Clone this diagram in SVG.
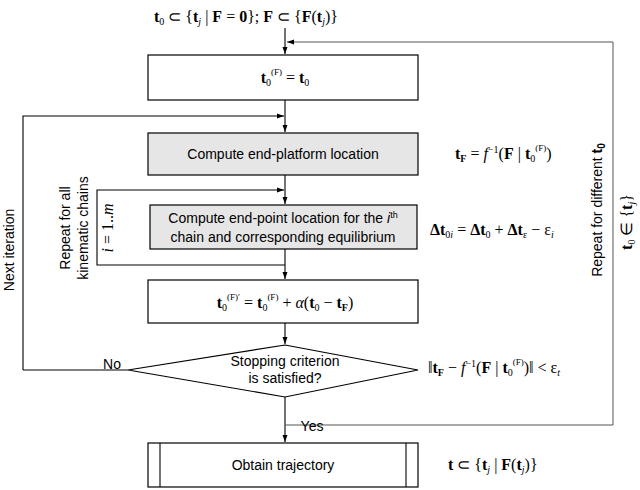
<svg xmlns="http://www.w3.org/2000/svg" width="640" height="490" viewBox="0 0 640 490">
<defs>
<marker id="a" markerWidth="8" markerHeight="8" refX="7" refY="4" orient="auto" markerUnits="userSpaceOnUse"><path d="M0,1.5 L7,4 L0,6.5 Z" fill="#000"/></marker>
<style>
.b{fill:#fff;stroke:#000;stroke-width:1.2}
.g{fill:#e6e6e6;stroke:#000;stroke-width:1.2}
.l{fill:none;stroke:#000;stroke-width:1.1}
.l2{fill:none;stroke:#555;stroke-width:1}
.t{font-family:"Liberation Sans",Arial,sans-serif;font-size:14px;text-anchor:middle}
.m{font-family:"Liberation Serif","Times New Roman",serif;font-size:16px}
.mb{font-weight:bold}
</style>
</defs>
<text class="m" x="246" y="22" text-anchor="middle"><tspan class="mb">t</tspan><tspan font-size="10" dy="3">0</tspan><tspan dy="-3"> ⊂ {</tspan><tspan class="mb">t</tspan><tspan font-size="10" font-style="italic" dy="3">j</tspan><tspan dy="-3">  |  </tspan><tspan class="mb">F</tspan> = <tspan class="mb">0</tspan>};   <tspan class="mb">F</tspan> ⊂ {<tspan class="mb">F</tspan>(<tspan class="mb">t</tspan><tspan font-size="10" font-style="italic" dy="3">j</tspan><tspan dy="-3">)}</tspan></text>
<g id="connectors">
<path class="l" d="M285,28 V54" marker-end="url(#a)"/>
<path class="l2" d="M613,42 H287" marker-end="url(#a)"/>
<path class="l" d="M285,100 V132" marker-end="url(#a)"/>
<path class="l" d="M23,370 V116 H284" marker-end="url(#a)"/>
<path class="l" d="M285,175 V204" marker-end="url(#a)"/>
<path class="l" d="M285,265 H97 V190 H284" marker-end="url(#a)"/>
<path class="l" d="M285,249 V279" marker-end="url(#a)"/>
<path class="l" d="M285,323 V344" marker-end="url(#a)"/>
<path class="l" d="M128,370 H23"/>
<path class="l" d="M285,397 V442" marker-end="url(#a)"/>
<path class="l2" d="M285,425 H613 V42"/>
</g>
<g id="n1"><rect class="b" x="148" y="55" width="270" height="45"/>
<text class="m" x="285" y="83" text-anchor="middle"><tspan class="mb">t</tspan><tspan font-size="10" dy="3">0</tspan><tspan font-size="9" dy="-11">(F)</tspan><tspan dy="8"> = </tspan><tspan class="mb">t</tspan><tspan font-size="10" dy="3">0</tspan></text></g>
<g id="n2"><rect class="g" x="148" y="133" width="270" height="42"/>
<text class="t" x="283" y="159">Compute end-platform location</text>
<text class="m" x="455" y="159"><tspan class="mb">t</tspan><tspan font-size="10" class="mb" dy="3">F</tspan><tspan dy="-3"> = </tspan><tspan font-style="italic">f</tspan><tspan font-size="10" dy="-6">−1</tspan><tspan dy="6">(</tspan><tspan class="mb">F</tspan> | <tspan class="mb">t</tspan><tspan font-size="10" dy="3">0</tspan><tspan font-size="9" dy="-11">(F)</tspan><tspan dy="8">)</tspan></text></g>
<g id="n3"><rect class="g" x="150" y="205" width="267" height="44"/>
<text class="t" x="283" y="223">Compute end-point location for the <tspan font-style="italic">i</tspan><tspan font-size="9" dy="-5">th</tspan></text>
<text class="t" x="283" y="242">chain and corresponding equilibrium</text>
<text class="m" x="430" y="235"><tspan class="mb">Δt</tspan><tspan font-size="10" dy="3">0<tspan font-style="italic">i</tspan></tspan><tspan dy="-3"> = </tspan><tspan class="mb">Δt</tspan><tspan font-size="10" dy="3">0</tspan><tspan dy="-3"> + </tspan><tspan class="mb">Δt</tspan><tspan font-size="10" dy="3">ε</tspan><tspan dy="-3"> − ε</tspan><tspan font-size="10" font-style="italic" dy="3">i</tspan></text>
<text class="m" x="113" y="228" transform="rotate(-90 113 228)" text-anchor="middle" font-size="14"><tspan font-style="italic">i</tspan> = 1..<tspan font-style="italic">m</tspan></text></g>
<g id="n4"><rect class="b" x="148" y="280" width="270" height="43"/>
<text class="m" x="285" y="308" text-anchor="middle"><tspan class="mb">t</tspan><tspan font-size="10" dy="3">0</tspan><tspan font-size="9" dy="-11">(F)′</tspan><tspan dy="8"> = </tspan><tspan class="mb">t</tspan><tspan font-size="10" dy="3">0</tspan><tspan font-size="9" dy="-11">(F)</tspan><tspan dy="8"> + </tspan><tspan font-style="italic">α</tspan>(<tspan class="mb">t</tspan><tspan font-size="10" dy="3">0</tspan><tspan dy="-3"> − </tspan><tspan class="mb">t</tspan><tspan font-size="10" class="mb" dy="3">F</tspan><tspan dy="-3">)</tspan></text></g>
<g id="n5"><polygon class="b" points="285,345 418,370 285,397 128,370"/>
<text class="t" x="285" y="366">Stopping criterion</text>
<text class="t" x="285" y="383">is satisfied?</text>
<text class="m" x="428" y="373">‖<tspan class="mb">t</tspan><tspan font-size="10" class="mb" dy="3">F</tspan><tspan dy="-3"> − </tspan><tspan font-style="italic">f</tspan><tspan font-size="10" dy="-6">−1</tspan><tspan dy="6">(</tspan><tspan class="mb">F</tspan> | <tspan class="mb">t</tspan><tspan font-size="10" dy="3">0</tspan><tspan font-size="9" dy="-11">(F)</tspan><tspan dy="8">)‖ &lt; ε</tspan><tspan font-size="10" font-style="italic" dy="3">t</tspan></text>
<text class="t" x="112" y="369">No</text>
<text class="t" x="312" y="431">Yes</text></g>
<g id="n6"><rect class="b" x="148" y="443" width="270" height="44"/>
<line class="l" x1="160" y1="443" x2="160" y2="487"/><line class="l" x1="406" y1="443" x2="406" y2="487"/>
<text class="t" x="283" y="470">Obtain trajectory</text>
<text class="m" x="448" y="470"><tspan class="mb">t</tspan> ⊂ {<tspan class="mb">t</tspan><tspan font-size="10" font-style="italic" dy="3">j</tspan><tspan dy="-3">  |  </tspan><tspan class="mb">F</tspan>(<tspan class="mb">t</tspan><tspan font-size="10" font-style="italic" dy="3">j</tspan><tspan dy="-3">)}</tspan></text></g>
<text class="t" x="14" y="250" font-size="15" transform="rotate(-90 14 250)">Next iteration</text>
<text class="t" x="70" y="228" font-size="15" transform="rotate(-90 70 228)">Repeat for all</text>
<text class="t" x="88" y="228" font-size="15" transform="rotate(-90 88 228)">kinematic chains</text>
<text class="t" x="602" y="210" font-size="15" transform="rotate(-90 602 210)">Repeat for different <tspan font-weight="bold">t</tspan><tspan font-size="10" font-weight="bold" dy="3">0</tspan></text>
<text class="m" x="632" y="222" text-anchor="middle" transform="rotate(-90 632 222)"><tspan class="mb">t</tspan><tspan font-size="10" dy="3">0</tspan><tspan dy="-3"> ∈ {</tspan><tspan class="mb">t</tspan><tspan font-size="10" font-style="italic" dy="3">j</tspan><tspan dy="-3">}</tspan></text>
</svg>
